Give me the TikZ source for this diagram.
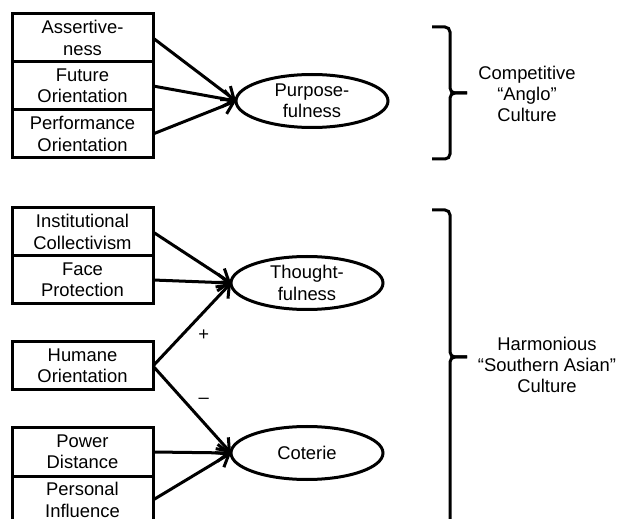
\documentclass[tikz,border=0pt]{standalone}
\usepackage{fontspec}
\setmainfont{Liberation Sans}
\usetikzlibrary{positioning,shapes.geometric,arrows.meta}
\begin{document}
\begin{tikzpicture}[x=0.5pt, y=-0.5pt, >={Straight Barb[length=5.5pt,width=8.5pt]},
  line width=1.5pt, outer sep=0pt,
  every node/.style={font=\fontsize{9.2}{10.6}\selectfont, align=center},
  dim/.style={draw, minimum width=70.5pt, minimum height=24pt, inner sep=1pt},
  fac/.style={draw, ellipse, minimum width=76pt, minimum height=26.5pt, inner sep=0pt},
  brc/.style={rounded corners=2.5pt}]
\clip (0,0) rectangle (617,519);

% competitive block
\node[dim] (asrt) at (82.5,38) {Assertive-\\ness};
\node[dim, below=0pt of asrt] (fut) {Future\\Orientation};
\node[dim, below=0pt of fut] (perf) {Performance\\Orientation};
\node[fac] (purp) at (312,101) {Purpose-\\fulness};
\draw[->] (asrt.east) -- (purp.west);
\draw[->] (fut.east) -- (purp.west);
\draw[->] (perf.east) -- (purp.west);

% harmonious block
\node[dim] (inst) at (82.5,232) {Institutional\\Collectivism};
\node[dim, below=0pt of inst] (face) {Face\\Protection};
\node[dim] (hum) at (82.5,366) {Humane\\Orientation};
\node[dim] (pow) at (82.5,452) {Power\\Distance};
\node[dim, below=0pt of pow] (pers) {Personal\\Influence};
\node[fac] (thou) at (307,283) {Thought-\\fulness};
\node[fac] (cot) at (307,453) {Coterie};
\draw[->] (inst.east) -- (thou.west);
\draw[->] (face.east) -- (thou.west);
\draw[->] (hum.east) -- node[pos=0.65, yshift=-11.5pt] (plus) {+} (thou.west);
\draw[->] (hum.east) -- node[pos=0.65, yshift=11pt] (minus) {--} (cot.west);
\draw[->] (pow.east) -- (cot.west);
\draw[->] (pers.east) -- (cot.west);

% braces
\draw[brc] (432,27) -| (450,93) -- (467,93);
\draw[brc] (467,93) -- (450,93) |- (432,159);
\node (ang) at (527,94) {Competitive\\“Anglo”\\Culture};
\draw[brc] (432,210) -| (450,357) -- (467,357);
\draw[brc] (467,357) -- (450,357) |- (432,560);
\node (sea) at (547,365) {Harmonious\\“Southern Asian”\\Culture};
\end{tikzpicture}
\end{document}
